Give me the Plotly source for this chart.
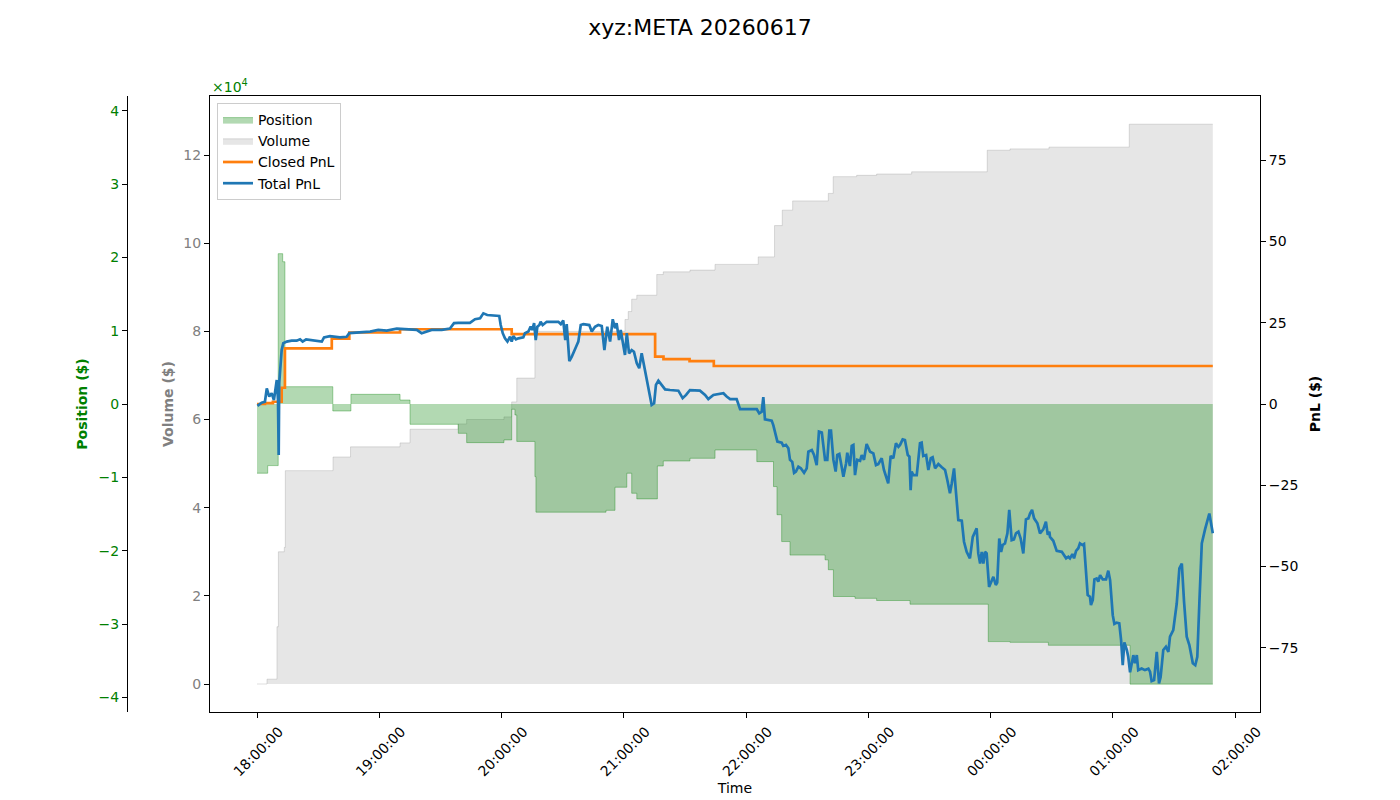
import pandas as pd
import plotly.graph_objects as go

# ---------------- data (time in minutes after 18:00 session start) ----------------
SESSION_START = "2026-06-17 18:00:00"

pos_min = [0.0, 5.25, 10.4, 12.6, 13.7, 37.2, 46.1, 70.2, 75.1, 98.8, 102.9, 121.2, 125.0, 126.6,
           127.5, 136.4, 136.9, 171.3, 175.7, 181.5, 183.9, 186.4, 196.5, 199.4, 212.5, 224.8,
           245.3, 253.5, 255.2, 257.5, 261.6, 278.8, 280.4, 282.9, 293.5, 304.1, 320.5, 358.9,
           369.6, 388.4, 428.5, 469.1]
pos_val = [-9440, -8400, 20500, 19400, 2360, -950, 1320, 540, -2770, -4000, -5270, -4900, -720, -1500,
           -5100, -9900, -14750, -14500, -11350, -9440, -12170, -12940, -8450, -7770, -7400, -6270,
           -7860, -11260, -15100, -18760, -20600, -21250, -22600, -26250, -26500, -26800, -27300, -32400,
           -32500, -32900, -38200, -38200]

vol_min = [0.0, 4.9, 9.8, 10.5, 13.4, 13.9, 37.3, 45.9, 70.2, 75.1, 98.7, 102.9, 121.2, 125.0,
           127.5, 136.4, 180.6, 182.2, 183.9, 186.4, 196.2, 199.4, 212.5, 224.8, 246.0, 254.0,
           257.8, 262.9, 280.4, 282.8, 294.3, 304.1, 321.3, 358.4, 369.6, 388.7, 428.1, 469.1]
vol_val = [0, 1100, 13000, 30000, 31000, 48400, 51500, 53800, 54700, 57800, 59000, 60000, 60600, 64000,
           69400, 80000, 82700, 84500, 87300, 88200, 92900, 93500, 93900, 95200, 96900, 104000,
           107500, 109600, 111300, 115100, 115400, 115700, 116200, 121100, 121400, 121800, 127000, 127000]

closed_min = [0.0, 3.9, 7.8, 12.1, 13.7, 36.7, 45.3, 70.2, 125.0, 195.4, 199.5, 212.3, 224.2, 469.1]
closed_val = [0.0, 0.3, 0.7, 5.0, 17.1, 20.1, 22.0, 23.0, 21.5, 14.6, 13.8, 13.2, 11.7, 11.7]

total_min = [
    0.2, 2.3, 3.9, 4.8, 6.0, 7.2, 8.3, 9.7, 10.3, 10.65,
    10.9, 11.6, 12.1, 12.9, 14.6, 17.0, 19.5, 21.1, 22.4, 24.1,
    27.6, 31.8, 32.9, 35.8, 40.7, 44.0, 45.3, 50.6, 55.5, 59.5,
    63.7, 68.6, 75.1, 78.4, 80.8, 83.3, 85.7, 90.7, 94.7, 96.7,
    98.8, 104.5, 107.0, 109.5, 111.1, 113.0, 118.9, 119.6, 120.6, 121.7,
    122.9, 124.2, 125.0, 125.8, 127.1, 128.3, 130.7, 131.5, 133.2, 134.3,
    135.1, 136.0, 136.8, 137.6, 138.6, 139.2, 140.2, 142.2, 147.9, 149.1,
    150.3, 151.3, 152.0, 153.3, 154.5, 156.6, 157.7, 158.9, 160.2, 163.1,
    164.3, 165.9, 167.5, 169.2, 170.5, 171.9, 173.3, 174.6, 175.7, 176.5,
    177.7, 178.5, 179.5, 180.6, 181.5, 182.6, 183.9, 185.0, 186.4, 187.6,
    188.8, 189.9, 191.3, 192.5, 193.7, 194.9, 195.8, 197.0, 198.6, 200.3,
    202.7, 206.8, 208.9, 210.6, 212.5, 217.4, 219.9, 221.5, 224.0, 227.2,
    228.9, 230.5, 232.2, 235.4, 237.1, 245.3, 246.5, 247.7, 248.5, 249.3,
    252.6, 253.4, 254.2, 255.4, 257.5, 258.3, 259.6, 260.8, 261.6, 262.7,
    263.6, 264.5, 265.7, 266.9, 268.5, 269.8, 270.6, 272.3, 273.4, 274.7,
    275.8, 277.2, 278.8, 279.9, 280.9, 281.7, 282.9, 284.0, 284.8, 285.8,
    287.0, 287.8, 289.1, 289.7, 291.0, 291.9, 292.7, 293.5, 294.6, 296.0,
    296.8, 297.9, 299.2, 300.9, 302.5, 303.8, 304.9, 306.6, 307.7, 308.7,
    309.8, 311.0, 312.3, 313.6, 314.8, 315.6, 316.9, 318.0, 319.4, 320.2,
    320.8, 321.3, 322.1, 323.8, 324.6, 325.4, 326.2, 327.0, 328.4, 329.5,
    330.7, 331.6, 332.8, 334.4, 336.1, 337.7, 338.8, 340.1, 341.0, 342.1,
    343.1, 344.2, 345.9, 347.0, 348.3, 349.9, 351.3, 353.2, 354.0, 354.9,
    355.7, 356.5, 357.3, 358.1, 359.3, 360.1, 361.4, 362.6, 363.3, 364.3,
    365.2, 366.0, 367.1, 368.3, 369.2, 370.4, 371.5, 372.5, 373.7, 374.8,
    376.1, 377.4, 378.6, 379.4, 380.4, 381.4, 383.0, 384.3, 385.9, 387.2,
    388.1, 388.9, 389.2, 390.8, 392.5, 395.0, 397.1, 398.2, 399.0, 400.2,
    401.0, 402.0, 403.1, 403.9, 405.1, 405.9, 406.9, 407.7, 408.8, 409.3,
    410.2, 411.0, 412.1, 412.9, 413.8, 415.1, 416.7, 417.8, 418.7, 420.0,
    420.8, 421.9, 423.2, 424.1, 424.9, 425.7, 426.9, 427.6, 428.5, 429.3,
    430.1, 430.9, 431.8, 432.5, 434.2, 435.8, 437.5, 438.3, 439.1, 440.3,
    441.6, 442.7, 443.5, 444.8, 446.1, 447.3, 448.1, 449.7, 451.4, 452.7,
    453.9, 455.0, 456.3, 457.6, 459.3, 460.5, 461.5, 462.5, 463.7, 465.3,
    467.4, 469.1]
total_val = [
    -0.6, 0.4, 0.7, 4.8, 2.3, 3.3, 1.2, 7.4, 1.2, -15.7,
    6.4, 11.5, 16.6, 18.7, 19.2, 19.5, 19.5, 19.9, 19.2, 19.9,
    19.5, 19.2, 20.5, 20.9, 20.5, 20.7, 21.8, 22.0, 22.3, 22.8,
    22.6, 23.2, 23.0, 22.8, 21.8, 22.3, 22.8, 22.8, 23.2, 24.9,
    25.0, 25.0, 26.1, 26.4, 27.9, 27.4, 27.1, 24.3, 21.8, 20.2,
    19.2, 20.7, 19.2, 20.9, 19.9, 20.2, 20.5, 21.8, 22.3, 23.8,
    22.8, 24.9, 19.7, 23.8, 24.3, 25.3, 24.3, 25.3, 25.3, 24.6,
    25.7, 19.7, 24.6, 13.2, 14.6, 17.6, 19.2, 24.3, 24.6, 24.3,
    22.3, 23.8, 24.3, 24.0, 16.6, 23.8, 19.2, 26.1, 23.3, 24.9,
    19.7, 22.8, 18.7, 15.1, 21.8, 15.6, 16.6, 16.1, 12.5, 11.0,
    15.6, 12.0, 7.4, 4.3, -0.3, 0.2, 5.9, 7.2, 5.9, 4.5,
    4.3, 4.1, 1.8, 2.8, 4.3, 4.1, 2.8, 1.5, 2.8, 3.0,
    3.3, 2.3, 1.5, 1.5, -1.6, -1.6, -2.9, -2.4, 2.1, -4.7,
    -5.1, -6.5, -8.5, -11.6, -11.9, -12.9, -12.6, -13.6, -17.2, -17.8,
    -21.2, -20.8, -19.3, -19.8, -21.2, -19.8, -14.7, -14.2, -15.7, -18.8,
    -8.5, -8.8, -17.2, -17.2, -8.2, -8.2, -17.2, -20.8, -15.7, -15.4,
    -19.5, -22.4, -18.3, -15.0, -19.1, -12.9, -12.6, -21.9, -17.2, -17.5,
    -15.7, -17.2, -12.3, -14.7, -15.2, -18.8, -18.5, -16.7, -20.3, -22.4,
    -24.4, -16.0, -16.7, -12.1, -13.2, -12.6, -10.9, -11.1, -15.7, -16.2,
    -26.5, -20.8, -21.9, -21.9, -16.2, -12.1, -11.9, -16.0, -15.7, -20.3,
    -16.7, -16.4, -19.8, -18.5, -19.5, -20.3, -23.4, -27.5, -24.4, -19.8,
    -27.5, -35.7, -35.9, -42.4, -45.5, -47.5, -40.9, -38.3, -46.0, -49.1,
    -45.5, -49.1, -45.5, -46.0, -56.3, -55.2, -53.2, -55.7, -55.0, -41.4,
    -45.5, -43.4, -42.9, -39.8, -32.6, -41.9, -41.7, -39.8, -39.3, -41.4,
    -46.0, -35.5, -35.2, -33.7, -32.6, -35.2, -36.7, -39.8, -38.6, -36.2,
    -40.3, -39.3, -40.9, -42.1, -45.2, -45.5, -47.5, -47.0, -47.5, -46.2,
    -47.5, -45.2, -44.4, -42.9, -43.4, -43.1, -51.6, -58.8, -59.3, -61.9,
    -60.3, -54.0, -53.7, -54.7, -52.7, -54.0, -54.0, -51.3, -54.2, -65.0,
    -67.7, -67.3, -67.5, -72.7, -80.4, -73.4, -75.7, -77.8, -82.6, -79.3,
    -77.3, -79.8, -77.3, -81.9, -81.4, -81.9, -81.5, -82.4, -85.3, -85.0,
    -76.3, -86.0, -84.0, -75.7, -74.7, -76.3, -71.6, -69.6, -61.4, -50.6,
    -49.1, -60.9, -71.6, -74.2, -79.8, -80.4, -77.8, -61.4, -42.9, -38.6,
    -33.7, -39.8]

pnl_ticks = [-75, -50, -25, 0, 25, 50, 75]
vol_ticks = [0, 20000, 40000, 60000, 80000, 100000, 120000]
pos_ticks = [-40000, -30000, -20000, -10000, 0, 10000, 20000, 30000, 40000]

# ---------------- helpers ----------------
base = pd.Timestamp(SESSION_START)


def to_time(mins):
    return [base + pd.Timedelta(minutes=m) for m in mins]


def minus(s):
    return s.replace("-", "\u2212")


FONT = "DejaVu Sans"
FS = 14
W, H = 1400, 800
L, R, T, B = 210, 1260, 96, 712

fig = go.Figure()

fig.add_trace(go.Scatter(
    x=to_time(vol_min), y=vol_val, name="Volume", mode="lines", line_shape="hv",
    fill="tozeroy", fillcolor="rgba(128,128,128,0.2)",
    line=dict(color="rgba(128,128,128,0.25)", width=1),
    yaxis="y", legendrank=2))

fig.add_trace(go.Scatter(
    x=to_time(pos_min), y=pos_val, name="Position", mode="lines", line_shape="hv",
    fill="tozeroy", fillcolor="rgba(0,128,0,0.3)",
    line=dict(color="rgba(0,128,0,0.35)", width=1),
    yaxis="y2", legendrank=1))

fig.add_trace(go.Scatter(
    x=to_time(closed_min), y=closed_val, name="Closed PnL", mode="lines", line_shape="hv",
    line=dict(color="#ff7f0e", width=2.7), yaxis="y3", legendrank=3))

fig.add_trace(go.Scatter(
    x=to_time(total_min), y=total_val, name="Total PnL", mode="lines",
    line=dict(color="#1f77b4", width=2.7), yaxis="y3", legendrank=4))

x_lo = base - pd.Timedelta(minutes=23.07)
x_hi = base + pd.Timedelta(hours=8, minutes=12.27)

tickfont = dict(family=FONT, size=FS, color="black")

fig.update_layout(
    width=W, height=H,
    margin=dict(l=0, r=0, t=0, b=0, autoexpand=False),
    paper_bgcolor="white", plot_bgcolor="white",
    font=dict(family=FONT, size=FS, color="black"),
    title=dict(text="xyz:META 20260617", x=0.5, xanchor="center", y=1 - 27 / H, yanchor="middle",
               font=dict(family=FONT, size=22, color="black")),
    showlegend=True,
    legend=dict(x=217 / W, y=1 - 103 / H, xanchor="left", yanchor="top",
                bgcolor="rgba(255,255,255,0.85)", bordercolor="#cccccc", borderwidth=1,
                font=dict(family=FONT, size=FS, color="black"), tracegroupgap=0,
                traceorder="normal"),
    xaxis=dict(
        domain=[L / W, R / W], anchor="y", type="date", range=[x_lo, x_hi], automargin=False,
        tick0=base, dtick=3600000, tickformat="%H:%M:%S", tickangle=-45,
        ticks="outside", ticklen=5, tickcolor="black", tickfont=tickfont,
        ticklabelshift=22,
        showline=True, linecolor="black", linewidth=1, mirror=True,
        showgrid=False, zeroline=False,
        title=dict(text="Time", font=dict(family=FONT, size=FS, color="black"), standoff=4)),
    yaxis=dict(
        domain=[1 - B / H, 1 - T / H], anchor="x", side="left", automargin=False,
        range=[-6350, 133400], tickvals=vol_ticks, ticktext=[str(v // 10000) for v in vol_ticks],
        ticks="outside", ticklen=5, tickcolor="black",
        tickfont=dict(family=FONT, size=FS, color="gray"),
        showline=True, linecolor="black", linewidth=1, showgrid=False, zeroline=False,
        title=dict(text="<b>Volume ($)</b>", font=dict(family=FONT, size=FS, color="gray"), standoff=6)),
    yaxis2=dict(
        overlaying="y", anchor="free", position=127 / W, side="left", automargin=False,
        range=[-42000, 42000], tickvals=pos_ticks,
        ticktext=[minus(str(v // 10000)) for v in pos_ticks],
        ticks="outside", ticklen=5, tickcolor="black",
        tickfont=dict(family=FONT, size=FS, color="green"),
        showline=True, linecolor="black", linewidth=1, showgrid=False, zeroline=False,
        title=dict(text="<b>Position ($)</b>", font=dict(family=FONT, size=FS, color="green"), standoff=6)),
    yaxis3=dict(
        overlaying="y", anchor="x", side="right", automargin=False,
        range=[-94.8, 94.8], tickvals=pnl_ticks, ticktext=[minus(str(v)) for v in pnl_ticks],
        ticks="outside", ticklen=5, tickcolor="black", tickfont=tickfont,
        showline=True, linecolor="black", linewidth=1, showgrid=False, zeroline=False,
        title=dict(text="<b>PnL ($)</b>", font=dict(family=FONT, size=FS, color="black"), standoff=12)),
    annotations=[dict(
        text="\u00d710<sup>4</sup>", xref="paper", yref="paper", x=L / W, y=1 - 86 / H,
        xanchor="left", yanchor="middle", showarrow=False,
        font=dict(family=FONT, size=FS, color="green"))],
)

fig.write_html("out.html")
